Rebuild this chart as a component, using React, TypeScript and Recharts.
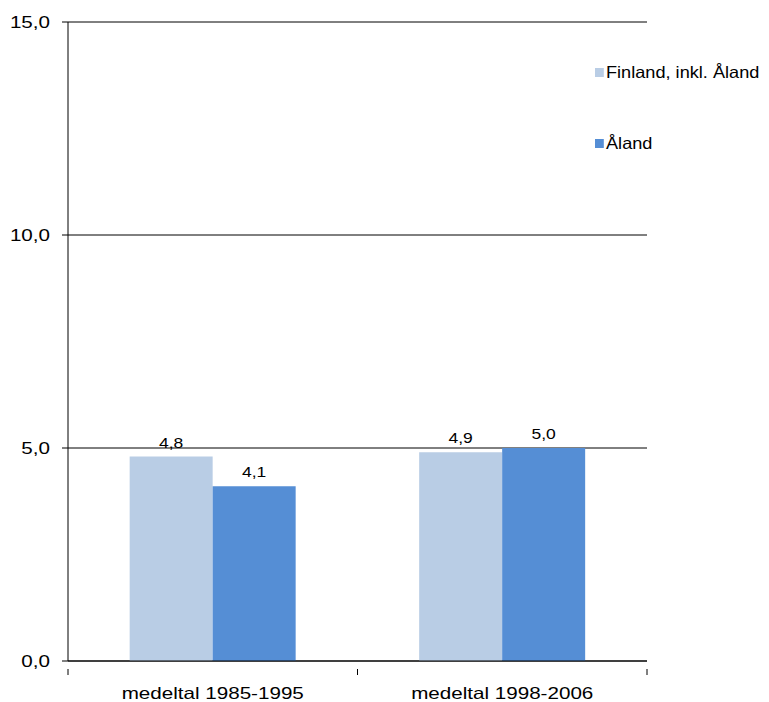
import { BarChart, Bar, XAxis, YAxis, CartesianGrid, LabelList } from 'recharts';

const categories = ['medeltal 1985-1995', 'medeltal 1998-2006'];
const finland = [4.8, 4.9];
const aland = [4.1, 5.0];
const yTicks = [0, 5, 10, 15];

const data = categories.map((name, i) => ({ name, finland: finland[i], aland: aland[i] }));

const CHART_W = 761;
const CHART_H = 694;
const MARGIN = { top: 14, right: 122, bottom: 8, left: 0 };
const Y_W = 60;
const PLOT_W = CHART_W - MARGIN.left - MARGIN.right - Y_W;
const HALF_BAND = PLOT_W / categories.length / 2;

// the reference is stretched sideways, so text is widened to match
const FONT = '"Liberation Sans", Arial, sans-serif';
const STRETCH = 1.25;
const fmt = (v: number) => v.toFixed(1).replace('.', ',');

const series = [
  { key: 'finland', label: 'Finland, inkl. Åland', color: '#B9CDE5' },
  { key: 'aland', label: 'Åland', color: '#558ED5' },
];

function XTick(props: any) {
  const { x, y, payload } = props;
  return (
    <g>
      <line x1={x - HALF_BAND} x2={x - HALF_BAND} y1={y} y2={y + 6} stroke="#000" />
      <line x1={x + HALF_BAND} x2={x + HALF_BAND} y1={y} y2={y + 6} stroke="#000" />
      <text
        transform={`translate(${x},${y + 30}) scale(${STRETCH},1)`}
        textAnchor="middle"
        fontSize={16.5}
        fill="#000"
        fontFamily={FONT}
      >
        {payload.value}
      </text>
    </g>
  );
}

function YTick(props: any) {
  const { x, y, payload } = props;
  return (
    <text
      transform={`translate(${x},${y + 6}) scale(${STRETCH},1)`}
      textAnchor="end"
      fontSize={16.5}
      fill="#000"
      fontFamily={FONT}
    >
      {fmt(payload.value)}
    </text>
  );
}

function BarLabel(props: any) {
  const { x, y, width, value } = props;
  return (
    <text
      transform={`translate(${x + width / 2},${y - 9}) scale(${STRETCH},1)`}
      textAnchor="middle"
      fontSize={14}
      fill="#000"
      fontFamily={FONT}
    >
      {fmt(Number(value))}
    </text>
  );
}

function LegendBox() {
  return (
    <div
      style={{
        position: 'absolute',
        left: 587,
        top: 53,
        fontFamily: FONT,
        fontSize: 16.5,
        color: '#000',
        transform: 'scaleX(1.1)',
        transformOrigin: 'left top',
        whiteSpace: 'nowrap',
      }}
    >
      {series.map((s, i) => (
        <div key={s.key} style={{ display: 'flex', alignItems: 'center', height: 22, marginBottom: i === 0 ? 49 : 0 }}>
          <span style={{ display: 'inline-block', width: 8, height: 9, background: s.color, marginRight: 2 }} />
          <span>{s.label}</span>
        </div>
      ))}
    </div>
  );
}

export default function App() {
  return (
    <div style={{ position: 'relative', width: CHART_W, height: CHART_H, background: '#fff' }}>
      <BarChart
        width={CHART_W}
        height={CHART_H}
        data={data}
        margin={MARGIN}
        barGap={0}
        barCategoryGap="21.3%"
      >
        <CartesianGrid vertical={false} stroke="#000" strokeWidth={1} />
        <XAxis
          dataKey="name"
          axisLine={{ stroke: '#000' }}
          tickLine={false}
          tick={<XTick />}
          height={33}
          interval={0}
        />
        <YAxis
          width={Y_W}
          domain={[0, 15]}
          ticks={yTicks}
          axisLine={{ stroke: '#000' }}
          tickLine={{ stroke: '#000' }}
          tickSize={6}
          tickMargin={12}
          tick={<YTick />}
        />
        {series.map((s) => (
          <Bar key={s.key} dataKey={s.key} fill={s.color} isAnimationActive={false}>
            <LabelList dataKey={s.key} content={<BarLabel />} />
          </Bar>
        ))}
      </BarChart>
      <LegendBox />
    </div>
  );
}
